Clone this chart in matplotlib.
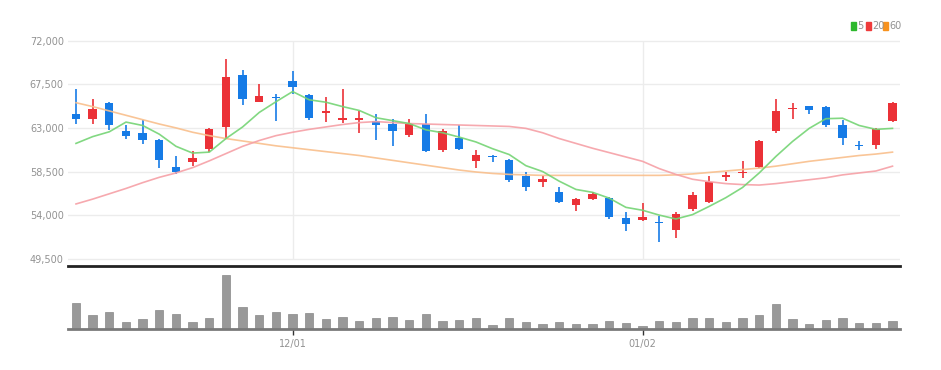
import matplotlib
matplotlib.use("Agg")
import matplotlib.pyplot as plt
from matplotlib.patches import Rectangle
import numpy as np

# trading days (MM/DD)
dates = ['11/14', '11/15', '11/16', '11/17', '11/18', '11/21', '11/22', '11/23', '11/24', '11/25',
         '11/28', '11/29', '11/30', '12/01', '12/02', '12/05', '12/06', '12/07', '12/08', '12/09',
         '12/12', '12/13', '12/14', '12/15', '12/16', '12/19', '12/20', '12/21', '12/22', '12/23',
         '12/26', '12/27', '12/28', '12/29', '01/02', '01/03', '01/04', '01/05', '01/06', '01/09',
         '01/10', '01/11', '01/12', '01/13', '01/16', '01/17', '01/18', '01/19', '01/20', '01/25']

opens = [64400, 63900, 65600, 62700, 62500, 61800, 59000, 59450, 60800, 63100,
         68450, 65700, 66100, 67850, 66400, 64550, 63800, 63800, 63750, 63400,
         62300, 63400, 60700, 61950, 59550, 60050, 59700, 58000, 57400, 56350,
         55000, 55700, 55750, 53700, 53450, 53250, 52450, 54600, 55350, 57950,
         58300, 58950, 62700, 65000, 65250, 65200, 63250, 61250, 61250, 63750]
highs = [67000, 66000, 65700, 63300, 63800, 61850, 60050, 60600, 63000, 70100,
         69000, 67550, 66500, 68900, 66500, 66150, 67000, 64750, 64400, 63900,
         63900, 64400, 62900, 63250, 60750, 60250, 59800, 58400, 58000, 56900,
         55800, 56400, 55850, 54300, 55200, 53950, 54300, 56400, 58000, 58400,
         59550, 61800, 65950, 65550, 65300, 65300, 63850, 61600, 62950, 65700]
lows = [63400, 63400, 62800, 61850, 61300, 58900, 58200, 59100, 60500, 61950,
        65400, 65650, 63750, 66500, 63850, 63650, 63550, 62450, 61800, 61100,
        62050, 60550, 60550, 60750, 58850, 59450, 57400, 56450, 56950, 55200,
        54450, 55600, 53550, 52350, 53350, 51250, 51650, 54400, 55250, 57500,
        57850, 58850, 62450, 63900, 64400, 63100, 61250, 60750, 60800, 63650]
closes = [63900, 64900, 63300, 62200, 61800, 59700, 58450, 59850, 62900, 68300,
          66000, 66250, 66050, 67250, 64000, 64750, 64050, 64050, 63250, 62650,
          63400, 60650, 62650, 60800, 60250, 59950, 57600, 56900, 57750, 55350,
          55650, 56150, 53800, 53050, 53800, 53150, 54150, 56100, 57400, 58100,
          58450, 61650, 64700, 65100, 64850, 63250, 61950, 61150, 62900, 65600]

# moving averages as shown on the chart
ma5 = [61400, 62100, 62600, 63600, 63250, 62350, 61100, 60400, 60500, 61900,
       63100, 64600, 65700, 66750, 65900, 65650, 65200, 64800, 64050, 63750,
       63450, 62800, 62500, 62050, 61550, 60850, 60250, 59100, 58500, 57500,
       56650, 56350, 55750, 54800, 54500, 54000, 53600, 54050, 54900, 55800,
       56850, 58350, 60050, 61600, 62950, 63950, 64000, 63250, 62850, 62950]
ma20 = [55150, 55650, 56200, 56750, 57350, 57900, 58350, 58900, 59600, 60350,
        61100, 61700, 62200, 62550, 62850, 63100, 63350, 63550, 63650, 63550,
        63450, 63400, 63350, 63300, 63250, 63200, 63150, 62950, 62500, 61900,
        61400, 60900, 60450, 60000, 59550, 58800, 58200, 57700, 57450, 57250,
        57150, 57100, 57250, 57450, 57650, 57850, 58150, 58350, 58550, 59050]
ma60 = [65600, 65200, 64750, 64300, 63850, 63400, 63000, 62550, 62200, 61900,
        61650, 61400, 61150, 60950, 60750, 60550, 60350, 60150, 59900, 59650,
        59400, 59150, 58900, 58650, 58450, 58300, 58200, 58150, 58100, 58100,
        58100, 58100, 58100, 58100, 58100, 58100, 58150, 58250, 58400, 58550,
        58700, 58850, 59050, 59300, 59550, 59750, 59950, 60150, 60300, 60500]

# volume (thousand shares)
volume = [770, 420, 520, 200, 300, 550, 440, 200, 320, 1620,
          650, 420, 520, 440, 470, 300, 360, 250, 320, 350,
          270, 450, 250, 270, 320, 120, 320, 200, 160, 220,
          150, 150, 250, 170, 100, 250, 200, 320, 320, 210,
          320, 420, 750, 300, 140, 270, 320, 170, 170, 250]

y_ticks = [49500, 54000, 58500, 63000, 67500, 72000]
x_labels = ['12/01', '01/02']

RED = '#eb3137'
BLUE = '#167be6'
GRID = '#ececec'
LABEL = '#929292'
FONT = ['Liberation Sans Narrow', 'DejaVu Sans']

plt.rcParams['font.family'] = FONT

W, H = 941, 370
fig = plt.figure(figsize=(W / 100, H / 100), dpi=100)

def box(x0, y0, x1, y1):
    # pixel box (top-left origin) -> figure fraction rect
    return [x0 / W, 1 - y1 / H, (x1 - x0) / W, (y1 - y0) / H]

ax = fig.add_axes(box(68, 30, 900, 266))
axv = fig.add_axes(box(68, 268, 900, 329))

x = np.arange(len(dates))
o = np.array(opens)
c = np.array(closes)
up = c >= o
colors = np.where(up, RED, BLUE)

xmin, xmax = -0.48, 49.45
ppx = 4500 / 43.6
ax.set_xlim(xmin, xmax)
ax.set_ylim(72000 - (266 - 40.7) * ppx, 72000 + (40.7 - 30) * ppx)

# grid
for t in y_ticks:
    ax.axhline(t, color=GRID, lw=1, zorder=0)
tick_pos = [dates.index(d) for d in x_labels]
ax.vlines(tick_pos, y_ticks[0], y_ticks[-1], colors=GRID, lw=1, zorder=0)

# candles
ax.vlines(x, lows, highs, colors=colors, lw=1.2, zorder=2)
body_h = np.maximum(np.abs(c - o), 90)
ax.bar(x, body_h, bottom=np.minimum(o, c), width=0.5, color=colors, zorder=3)

# moving averages
ax.plot(x, ma60, color='#f9bf8c', lw=1.2, alpha=0.9, zorder=4)
ax.plot(x, ma20, color='#f6a0a6', lw=1.2, alpha=0.9, zorder=4)
ax.plot(x, ma5, color='#74d474', lw=1.2, alpha=0.9, zorder=4)

ax.set_yticks(y_ticks)
ax.set_yticklabels([f'{t:,}' for t in y_ticks])
ax.tick_params(axis='y', length=0, pad=3, labelsize=7, labelcolor=LABEL)
ax.set_xticks([])
for s in ['top', 'left', 'right']:
    ax.spines[s].set_visible(False)
ax.spines['bottom'].set_color('#222222')
ax.spines['bottom'].set_linewidth(2)

# volume
axv.bar(x, volume, width=0.5, color='#999999', edgecolor='#888888', lw=0.5)
axv.set_xlim(xmin, xmax)
axv.set_ylim(0, 1620 * 61 / 54.5)
axv.set_yticks([])
axv.set_xticks(tick_pos)
axv.set_xticklabels(x_labels)
axv.tick_params(axis='x', length=4, width=1, color='#333333', pad=3,
                labelsize=7, labelcolor=LABEL)
for s in ['top', 'left', 'right']:
    axv.spines[s].set_visible(False)
axv.spines['bottom'].set_color('#7a7a7a')
axv.spines['bottom'].set_linewidth(2)

# legend (top right)
legend = [('5', '#2db82d', 851, 857), ('20', '#ef3b3b', 866, 872), ('60', '#f7921e', 883, 889)]
for txt, col, sx, tx in legend:
    fig.patches.append(Rectangle((sx / W, 1 - 30 / H), 5 / W, 8 / H,
                                 transform=fig.transFigure, color=col))
    fig.text(tx / W, 1 - 26 / H, txt, color=LABEL, fontsize=7, va='center', ha='left')

fig.savefig('out.png', dpi=100, facecolor='white')
